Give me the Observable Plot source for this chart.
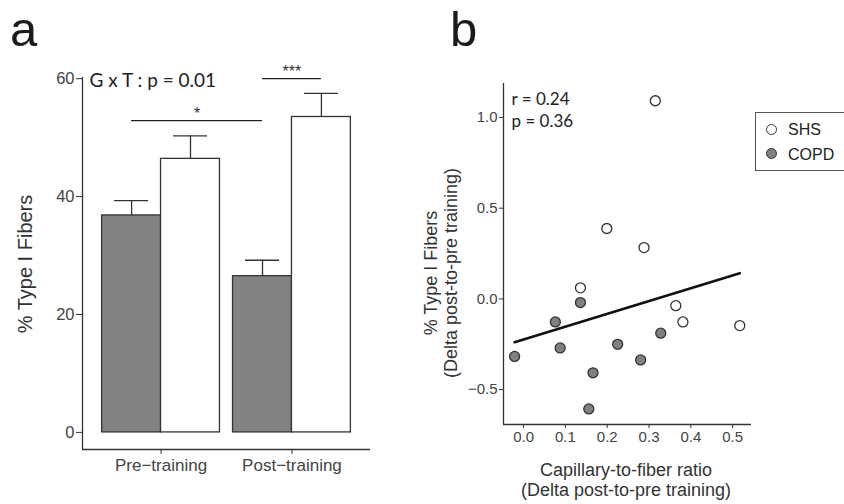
<!DOCTYPE html>
<html><head><meta charset="utf-8">
<script src="https://cdn.jsdelivr.net/npm/d3@7"></script>
<script src="https://cdn.jsdelivr.net/npm/@observablehq/plot@0.6"></script>
<style>
body{margin:0;background:#fff;}
#root{position:relative;width:844px;height:504px;overflow:hidden;font-family:"Liberation Sans",Arial,sans-serif;color:#222;}
.abs{position:absolute;white-space:nowrap;}
.letter{font-family:"Liberation Sans",Arial,sans-serif;font-size:49px;line-height:normal;color:#1a1a1a;}
.ylab{transform:translate(-50%,-50%) rotate(-90deg);text-align:center;color:#333;}
.xlab{transform:translate(-50%,-50%);text-align:center;color:#333;}
#pa,#pb{position:absolute;top:0;}
#pa{left:0;} #pb{left:422px;}
.legend{left:755px;top:112px;width:100px;height:59px;border:1px solid #555;box-sizing:border-box;}
.sw{position:absolute;width:9px;height:9px;border-radius:50%;border:1.3px solid #333;}
.lt{position:absolute;font-size:16px;line-height:1;color:#222;}
</style></head><body><div id="root">
<div id="pa"></div><div id="pb"></div>
</div>
<script>
// ---------- Panel a data ----------
const times = ["Pre-training", "Post-training"];
const timeLabels = ["Pre\u2212training", "Post\u2212training"];
const groupsA = ["COPD", "SHS"];
const copdMean = [36.8, 26.5];
const copdSE = [2.5, 2.7];
const shsMean = [46.4, 53.5];
const shsSE = [3.9, 4.0];
const yTicksA = [0, 20, 40, 60];
const bracketFrom = [["Pre-training", "COPD"], ["Post-training", "COPD"]];
const bracketTo = [["Post-training", "COPD"], ["Post-training", "SHS"]];
const bracketY = [52.9, 60.0];
const bracketLabel = ["*", "***"];
const anovaText = "G x T : p = 0.01";

// ---------- Panel b data ----------
const shsX = [0.136, 0.199, 0.288, 0.315, 0.364, 0.381, 0.517];
const shsY = [0.061, 0.388, 0.283, 1.092, -0.037, -0.127, -0.147];
const copdX = [-0.0215, 0.076, 0.0875, 0.136, 0.156, 0.166, 0.225, 0.28, 0.328];
const copdY = [-0.317, -0.127, -0.27, -0.02, -0.606, -0.407, -0.25, -0.336, -0.189];
const xTicksB = [0, 0.1, 0.2, 0.3, 0.4, 0.5];
const yTicksB = [-0.5, 0, 0.5, 1.0];
const statText = ["r = 0.24", "p = 0.36"];

// ---------- Panel a ----------
const dodge = 0.45, capHalf = 0.13;
const posOf = (t, g) => times.indexOf(t) + (g === "COPD" ? -dodge / 2 : dodge / 2);
const rowsA = [];
times.forEach((t, i) => {
  rowsA.push({time: t, group: "COPD", mean: copdMean[i], se: copdSE[i]});
  rowsA.push({time: t, group: "SHS", mean: shsMean[i], se: shsSE[i]});
});
rowsA.forEach(d => d.pos = posOf(d.time, d.group));
const brackets = bracketY.map((y, i) => ({
  x1: posOf(...bracketFrom[i]), x2: posOf(...bracketTo[i]), y, label: bracketLabel[i]
}));
const xDomA = [-0.6, 1.6], yDomA = [-2.9, 60.2];

const plotA = Plot.plot({
  width: 422, height: 504,
  marginLeft: 82, marginRight: 52, marginTop: 77, marginBottom: 55,
  x: {domain: xDomA, axis: null},
  y: {domain: yDomA, axis: null},
  color: {domain: groupsA, range: ["#838383", "#ffffff"]},
  style: {fontFamily: "'Liberation Sans', Arial, sans-serif", background: "transparent", color: "#333", overflow: "visible"},
  marks: [
    Plot.ruleX(rowsA, {x: "pos", y1: "mean", y2: d => d.mean + d.se, stroke: "#333", strokeWidth: 1.3}),
    Plot.ruleY(rowsA, {x1: d => d.pos - capHalf, x2: d => d.pos + capHalf, y: d => d.mean + d.se, stroke: "#333", strokeWidth: 1.3}),
    Plot.rect(rowsA, {x1: d => d.pos - dodge / 2, x2: d => d.pos + dodge / 2, y1: 0, y2: "mean", fill: "group", stroke: "#333", strokeWidth: 1.3}),
    Plot.ruleY(brackets, {x1: "x1", x2: "x2", y: "y", stroke: "#222", strokeWidth: 1.2}),
    Plot.text(brackets, {x: d => (d.x1 + d.x2) / 2, y: "y", text: "label", lineAnchor: "bottom", dy: -2, fontSize: 16, fill: "#333"}),
    Plot.text([anovaText], {frameAnchor: "top-left", dx: 7, dy: 3, lineAnchor: "middle", textAnchor: "start", fontSize: 19, fontFamily: "Lato, 'Open Sans', sans-serif", fill: "#222"}),
    Plot.ruleX([xDomA[0]], {stroke: "#333", strokeWidth: 1.3}),
    Plot.ruleY([yDomA[0]], {stroke: "#333", strokeWidth: 1.3}),
    Plot.axisY({ticks: yTicksA, tickSize: 6, tickPadding: 2, label: null, fontSize: 16.5, color: "#444", stroke: "#333"}),
    Plot.axisX({ticks: [0, 1], tickFormat: i => timeLabels[i], tickSize: 5, tickPadding: 4, label: null, fontSize: 17, color: "#444", stroke: "#333"})
  ]
});
document.getElementById("pa").append(plotA);

// ---------- Panel b ----------
const rowsB = [
  ...shsX.map((x, i) => ({x, y: shsY[i], group: "SHS"})),
  ...copdX.map((x, i) => ({x, y: copdY[i], group: "COPD"}))
];
const xDomB = [-0.048, 0.545], yDomB = [-0.692, 1.187];
const plotB = Plot.plot({
  width: 422, height: 504,
  marginLeft: 81, marginRight: 93, marginTop: 83, marginBottom: 80,
  x: {domain: xDomB, axis: null},
  y: {domain: yDomB, axis: null},
  color: {domain: ["SHS", "COPD"], range: ["#ffffff", "#808080"]},
  style: {fontFamily: "'Liberation Sans', Arial, sans-serif", background: "transparent", color: "#333", overflow: "visible"},
  marks: [
    Plot.linearRegressionY(rowsB, {x: "x", y: "y", ci: 0, stroke: "#111", strokeWidth: 2.6}),
    Plot.dot(rowsB, {x: "x", y: "y", r: 5, fill: "group", stroke: "#333", strokeWidth: 1.3}),
    Plot.text([statText.join("\n")], {frameAnchor: "top-left", dx: 8, dy: 6, lineAnchor: "top", lineHeight: 1.3, textAnchor: "start", fontSize: 17, fontFamily: "Lato, 'Open Sans', sans-serif", fill: "#222"}),
    Plot.ruleX([xDomB[0]], {stroke: "#333", strokeWidth: 1.3}),
    Plot.ruleY([yDomB[0]], {stroke: "#333", strokeWidth: 1.3}),
    Plot.axisY({ticks: yTicksB, tickFormat: ".1f", tickSize: 4, tickPadding: 2, label: null, fontSize: 15, color: "#444", stroke: "#333"}),
    Plot.axisX({ticks: xTicksB, tickFormat: ".1f", tickSize: 4, tickPadding: 3, label: null, fontSize: 15, color: "#444", stroke: "#333"})
  ]
});
document.getElementById("pb").append(plotB);

// ---------- HTML text: panel letters, axis titles, legend ----------
const root = document.getElementById("root");
function addDiv(cls, css, html) {
  const d = document.createElement("div");
  d.className = "abs " + cls;
  Object.assign(d.style, css);
  d.innerHTML = html;
  root.appendChild(d);
  return d;
}
addDiv("letter", {left: "10px", top: "1px"}, "a");
addDiv("letter", {left: "450px", top: "1px"}, "b");
addDiv("ylab", {left: "25px", top: "264px", fontSize: "20px", lineHeight: "20px"}, "% Type I Fibers");
addDiv("ylab", {left: "441px", top: "273px", fontSize: "18px", lineHeight: "20px"}, "% Type I Fibers<br>(Delta post-to-pre training)");
addDiv("xlab", {left: "626px", top: "480px", fontSize: "18px", lineHeight: "20px"}, "Capillary-to-fiber ratio<br>(Delta post-to-pre training)");
const legendGroups = ["SHS", "COPD"];
const legendFill = ["#ffffff", "#808080"];
const lg = addDiv("legend", {}, "");
legendGroups.forEach((g, i) => {
  const s = document.createElement("div");
  s.className = "sw";
  Object.assign(s.style, {left: "10px", top: (11 + i * 24) + "px", background: legendFill[i]});
  lg.appendChild(s);
  const t = document.createElement("div");
  t.className = "lt";
  Object.assign(t.style, {left: "32px", top: (9 + i * 25) + "px"});
  t.textContent = g;
  lg.appendChild(t);
});
</script>
</body></html>
